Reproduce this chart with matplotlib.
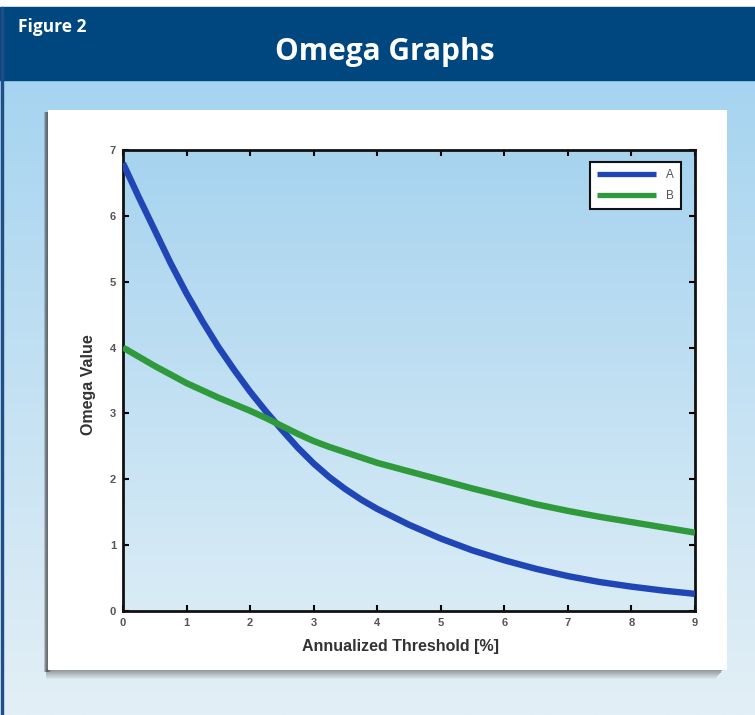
import numpy as np
import matplotlib.pyplot as plt
from matplotlib.patches import Rectangle
from matplotlib.colors import LinearSegmentedColormap

# values
threshold = [0, 0.25, 0.5, 0.75, 1, 1.25, 1.5, 1.75, 2, 2.25, 2.5, 2.75, 3, 3.25, 3.5, 3.75,
             4, 4.5, 5, 5.5, 6, 6.5, 7, 7.5, 8, 8.5, 9]
omega_a = [6.8, 6.28, 5.78, 5.28, 4.82, 4.40, 4.01, 3.66, 3.33, 3.03, 2.75, 2.48, 2.24, 2.03, 1.85, 1.69,
           1.55, 1.31, 1.10, 0.92, 0.77, 0.64, 0.53, 0.44, 0.37, 0.31, 0.26]
omega_b = [4.0, 3.86, 3.72, 3.59, 3.46, 3.35, 3.24, 3.14, 3.04, 2.93, 2.81, 2.69, 2.58, 2.49, 2.41, 2.33,
           2.25, 2.12, 1.99, 1.86, 1.74, 1.62, 1.52, 1.43, 1.35, 1.27, 1.19]
series_names = ['A', 'B']
series_colors = ['#1f46b4', '#2f9a3c']
xticks = list(range(0, 10))
yticks = list(range(0, 8))

W, H = 755, 715
fig = plt.figure(figsize=(W / 100, H / 100), dpi=100)


def box(x0, y0, x1, y1):
    # pixel box (top-left origin) -> figure fraction rect
    return [x0 / W, 1 - y1 / H, (x1 - x0) / W, (y1 - y0) / H]


# page background in pixel coordinates
bg = fig.add_axes([0, 0, 1, 1])
bg.set_xlim(0, W)
bg.set_ylim(H, 0)
bg.axis('off')
page_cmap = LinearSegmentedColormap.from_list('page', ['#a6d4f0', '#e3eff6'])
grad = np.linspace(0, 1, 256).reshape(-1, 1)
bg.imshow(grad, cmap=page_cmap, extent=[0, W, H, 80], aspect='auto', zorder=0)
bg.add_patch(Rectangle((0, 0), W, 7, color='white', zorder=1))
bg.add_patch(Rectangle((0, 7), W, 73, color='#00467f', zorder=1))
bg.add_patch(Rectangle((1, 7), 2, H, color='#1f4f86', zorder=2))
bg.text(18, 27, 'Figure 2', color='white', fontsize=12.5, fontweight='bold',
        family='Open Sans', va='center', ha='left')
bg.text(385, 52, 'Omega Graphs', color='white', fontsize=21.5, fontweight='bold',
        family='Open Sans', va='center', ha='center')

# white panel with a soft shadow on the left and bottom
for i in range(8):
    a = 0.45 * (1 - i / 8)
    bg.add_patch(Rectangle((44 + i * 0.5, 112), 4, 560, color='#444444',
                           alpha=a * 0.6, lw=0, zorder=2))
for i in range(10):
    a = 0.6 * (1 - i / 10)
    bg.add_patch(Rectangle((46, 669 + i), 677 - i * 0.8, 1.1, color='#555555',
                           alpha=a, lw=0, zorder=2))
bg.add_patch(Rectangle((48, 110), 679, 560, color='white', lw=0, zorder=3))

# chart
ax = fig.add_axes(box(123, 150, 695, 611))
ax_cmap = LinearSegmentedColormap.from_list('ax', ['#a7d3ef', '#d9ecf6'])
ax.imshow(grad, cmap=ax_cmap, extent=[0, 9, 0, 7], aspect='auto', zorder=0)

for ys, name, col in zip([omega_a, omega_b], series_names, series_colors):
    ax.plot(threshold, ys, color=col, lw=4.6, label=name, zorder=3,
            solid_capstyle='butt', solid_joinstyle='round')

ax.set_xlim(0, 9)
ax.set_ylim(0, 7)
ax.set_xticks(xticks)
ax.set_yticks(yticks)
ax.tick_params(direction='in', top=True, right=True, length=4, width=1.5,
               labelsize=8, labelcolor='#555555', pad=5)
for lbl in ax.get_xticklabels() + ax.get_yticklabels():
    lbl.set_family('Liberation Sans')
    lbl.set_fontweight('bold')
for s in ax.spines.values():
    s.set_linewidth(2)
    s.set_color('#111111')

ax.set_xlabel('Annualized Threshold [%]', fontsize=11.5, fontweight='bold',
              family='Liberation Sans', color='#333333')
ax.set_ylabel('Omega Value', fontsize=11.5, fontweight='bold',
              family='Liberation Sans', color='#333333')
ax.xaxis.set_label_coords((400 - 123) / 572, -(646 - 611) / 461)
ax.xaxis.label.set_va('center')
ax.yaxis.set_label_coords(-(123 - 88) / 572, (611 - 385) / 461)
ax.yaxis.label.set_va('center')

leg = ax.legend(loc='upper right', frameon=True, fancybox=False,
                handlelength=5.0, borderpad=0.6, labelspacing=0.7,
                bbox_to_anchor=(0.9855, 0.986), handletextpad=0.8,
                prop={'family': 'Liberation Sans', 'size': 8.5})
leg.get_frame().set_edgecolor('#111111')
leg.get_frame().set_linewidth(1.5)
leg.get_frame().set_alpha(1)
for t in leg.get_texts():
    t.set_color('#555555')
for lh in leg.get_lines():
    lh.set_linewidth(3.8)

fig.savefig('out.png', dpi=100)
